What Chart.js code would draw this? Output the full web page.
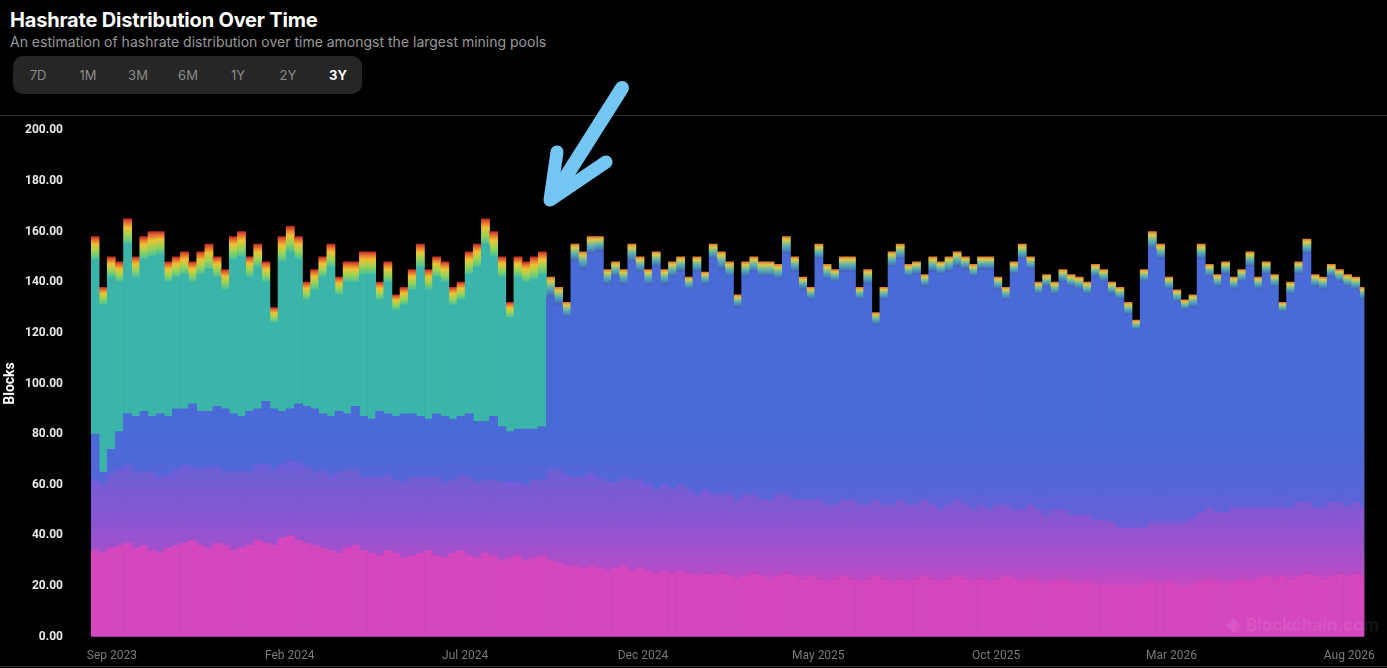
<!DOCTYPE html>
<html>
<head>
<meta charset="utf-8">
<title>Hashrate Distribution Over Time</title>
<script src="https://cdn.jsdelivr.net/npm/chart.js@4.4.1/dist/chart.umd.min.js"></script>
<style>
    html, body {
        margin: 0;
        padding: 0;
        width: 1387px;
        height: 668px;
        overflow: hidden;
        background: #000;
        font-family: Inter, "Noto Sans", sans-serif;
    }
    .title {
        position: absolute;
        left: 10px;
        top: 10px;
        color: #fff;
        font-size: 20px;
        line-height: 20px;
        font-weight: 700;
        letter-spacing: -0.2px;
    }
    .sub {
        position: absolute;
        left: 10px;
        top: 35px;
        color: #9a9a9a;
        font-size: 14px;
        line-height: 14px;
    }
    .ranges {
        position: absolute;
        left: 13px;
        top: 56px;
        width: 349px;
        height: 38px;
        background: #262626;
        border-radius: 10px;
    }
    .ranges span {
        position: absolute;
        top: 0;
        width: 50px;
        line-height: 38px;
        text-align: center;
        color: #8a8a8a;
        font-size: 13px;
    }
    .ranges span.on {
        color: #fff;
        font-weight: 700;
    }
    .rule {
        position: absolute;
        left: 0;
        width: 1387px;
        height: 1px;
        background: #2e2e2e;
    }
    .wrap {
        position: absolute;
        left: 0;
        top: 95px;
        width: 1387px;
        height: 577px;
    }
    .mark {
        position: absolute;
        left: 1228px;
        top: 615px;
        color: rgba(255, 255, 255, 0.08);
        font-size: 17px;
        font-weight: 700;
    }
    .mark i {
        display: inline-block;
        width: 11px;
        height: 11px;
        margin-right: 7px;
        background: rgba(255, 255, 255, 0.08);
        transform: rotate(45deg);
    }
    .arrow {
        position: absolute;
        left: 0;
        top: 0;
        pointer-events: none;
    }
</style>
</head>
<body>
<div class="title">Hashrate Distribution Over Time</div>
<div class="sub">An estimation of hashrate distribution over time amongst the largest mining pools</div>
<div class="ranges">
    <span style="left:0">7D</span>
    <span style="left:50px">1M</span>
    <span style="left:100px">3M</span>
    <span style="left:150px">6M</span>
    <span style="left:200px">1Y</span>
    <span style="left:250px">2Y</span>
    <span class="on" style="left:300px">3Y</span>
</div>
<div class="rule" style="top:115px"></div>
<div class="rule" style="top:666px"></div>
<div class="wrap"><canvas id="hashChart" width="1387" height="577"></canvas></div>
<div class="mark"><i></i>Blockchain.com</div>
<svg class="arrow" width="1387" height="668">
    <g fill="none" stroke="#74c6f4" stroke-linecap="round" stroke-linejoin="round">
        <path d="M622 88 L560 186" stroke-width="14"/>
        <path d="M557 152 L550 200 L606 162" stroke-width="13"/>
    </g>
</svg>

<script>
"use strict";

// blocks per day (weekly buckets), first week starts 14 Aug 2023
var pink = [34, 33, 35, 36, 37, 35, 36, 34, 33, 35, 36, 37, 38, 36, 35, 37, 36, 34, 35, 36,
    38, 37, 36, 39, 40, 38, 37, 36, 35, 34, 33, 35, 36, 34, 33, 32, 34, 33, 31, 32,
    33, 34, 32, 31, 33, 34, 32, 31, 33, 32, 30, 31, 32, 30, 31, 32,
    30, 29, 28, 28, 27, 28, 27, 26, 27, 28, 26, 27, 26, 25, 26,
    25, 26, 25, 24, 25, 24, 25, 24, 23, 24, 25, 24, 23, 24, 25,
    24, 23, 24, 23, 22, 23, 24, 23, 22, 23, 24, 23, 22, 23, 22,
    23, 24, 23, 22, 23, 24, 23, 22, 23, 22, 23, 24, 23, 22, 23,
    22, 21, 22, 23, 22, 21, 22, 21, 20, 21, 20, 21, 20, 21, 22,
    21, 22, 21, 20, 21, 22, 23, 22, 21, 22, 23, 22, 23, 24, 23,
    24, 23, 24, 25, 24, 23, 24, 25, 24, 25, 24];

var purple = [28, 27, 29, 30, 31, 30, 29, 31, 30, 29, 30, 31, 29, 30, 32, 30, 29, 31, 30, 29,
    30, 31, 30, 29, 30, 31, 30, 29, 31, 30, 32, 31, 30, 29, 30, 31, 30, 29, 30, 31,
    30, 29, 31, 30, 29, 30, 31, 30, 29, 30, 31, 30, 29, 30, 31, 30,
    36, 37, 36, 35, 36, 37, 36, 35, 34, 35, 36, 35, 34, 33, 34,
    33, 34, 33, 32, 33, 32, 31, 32, 31, 32, 31, 30, 31, 32, 31,
    30, 31, 30, 31, 30, 29, 30, 31, 30, 29, 30, 29, 30, 31, 30,
    29, 30, 29, 28, 29, 30, 29, 28, 29, 28, 29, 28, 27, 28, 29,
    28, 27, 28, 27, 26, 27, 26, 25, 26, 24, 23, 22, 23, 22, 23,
    24, 23, 24, 25, 26, 27, 28, 27, 28, 29, 28, 29, 28, 27, 28,
    27, 28, 29, 28, 27, 28, 29, 28, 27, 28, 27];

var blue = [18, 5, 10, 15, 20, 22, 24, 22, 25, 23, 24, 22, 25, 23, 22, 24, 25, 23, 22, 24,
    22, 25, 24, 21, 20, 23, 24, 25, 22, 23, 24, 22, 25, 24, 23, 26, 24, 25, 27, 25,
    24, 23, 25, 26, 24, 23, 25, 24, 23, 25, 22, 20, 21, 22, 20, 21,
    68, 65, 62, 85, 82, 86, 89, 78, 81, 76, 86, 82, 79, 88, 79,
    84, 84, 79, 88, 81, 93, 89, 86, 76, 86, 88, 88, 88, 85, 95,
    90, 83, 79, 95, 89, 88, 90, 90, 81, 87, 69, 81, 94, 95, 90,
    91, 84, 92, 93, 92, 92, 93, 92, 93, 95, 85, 81, 93, 99, 93,
    85, 90, 85, 90, 90, 89, 87, 96, 94, 90, 90, 84, 78, 97, 108,
    104, 92, 87, 84, 83, 100, 91, 89, 94, 86, 89, 95, 86, 92, 87,
    77, 84, 90, 98, 87, 86, 89, 87, 87, 84, 82];

// this pool stops showing up after September 2024
var teal = [69, 66, 68, 59, 67, 55, 60, 63, 63, 53, 52, 53, 48, 54, 56, 51, 47, 61, 63, 53,
    56, 47, 34, 59, 62, 57, 42, 47, 54, 59, 46, 52, 49, 56, 57, 44, 52, 42, 43, 49,
    59, 51, 54, 53, 45, 46, 55, 61, 70, 63, 59, 45, 60, 58, 59, 60];

var others = [9, 7, 8, 8, 10, 8, 9, 10, 9, 8, 8, 9, 8, 9, 10, 8, 8, 9, 10, 8,
    9, 8, 6, 10, 10, 9, 7, 8, 8, 9, 7, 8, 8, 9, 9, 7, 8, 6, 7, 8,
    9, 8, 8, 8, 7, 7, 9, 9, 10, 10, 8, 6, 8, 8, 9, 9,
    8, 7, 6, 7, 7, 7, 6, 6, 6, 6, 7, 6, 6, 6, 6,
    6, 6, 5, 6, 5, 6, 7, 6, 5, 6, 6, 6, 6, 6, 7,
    6, 5, 5, 6, 6, 5, 6, 6, 5, 6, 5, 5, 6, 6, 5,
    5, 5, 6, 5, 6, 6, 5, 5, 5, 5, 5, 5, 5, 6, 5,
    5, 5, 5, 5, 5, 5, 5, 5, 5, 5, 5, 5, 4, 5, 7,
    6, 5, 5, 4, 5, 6, 5, 5, 5, 5, 5, 6, 5, 5, 5,
    4, 5, 5, 6, 5, 5, 5, 5, 5, 5, 5];

var tickLabels = ['Sep 2023', 'Feb 2024', 'Jul 2024', 'Dec 2024', 'May 2025', 'Oct 2025', 'Mar 2026', 'Aug 2026'];
var tickDates = ['2023-09-01', '2024-02-01', '2024-07-01', '2024-12-01', '2025-05-01', '2025-10-01', '2026-03-01', '2026-08-01'];

var startDay = Date.parse('2023-08-14');
var spanDays = (Date.parse('2026-08-14') - startDay) / 864e5;

function dayOf(s) {
    return (Date.parse(s) - startDay) / 864e5;
}

function toPoints(arr) {
    return arr.map(function (v, i) {
        return { x: i * 7 + 3.5, y: v };
    });
}

var tickDays = tickDates.map(dayOf);

// the lower pools blend from magenta into blue going up
var grads = {};
function bandFill(name, from, to, stops, fallback) {
    return function (ctx) {
        var chart = ctx.chart;
        if (!chart.chartArea) return fallback;
        if (!grads[name]) {
            var y = chart.scales.y;
            var g = chart.ctx.createLinearGradient(0, y.getPixelForValue(from), 0, y.getPixelForValue(to));
            stops.forEach(function (s) {
                g.addColorStop(s[0], s[1]);
            });
            grads[name] = g;
        }
        return grads[name];
    };
}

var purpleFill = bandFill('purple', 20, 75, [[0, '#c44ac5'], [0.45, '#8b55d2'], [1, '#5f64d8']], '#9452d0');
var blueFill = bandFill('blue', 40, 80, [[0, '#6e5ed6'], [0.5, '#5566d8'], [1, '#4a6bd7']], '#4a6bd7');

// small pools on top of each bar: green -> yellow -> red
function tipFill(ctx) {
    var chart = ctx.chart;
    if (!chart.chartArea || ctx.type !== 'data') return '#e0c040';
    var i = ctx.dataIndex;
    var y = chart.scales.y;
    var base = pink[i] + purple[i] + blue[i] + (teal[i] || 0);
    var g = chart.ctx.createLinearGradient(0, y.getPixelForValue(base), 0, y.getPixelForValue(base + others[i]));
    if (i < teal.length) {
        g.addColorStop(0, '#45bfa0');
        g.addColorStop(0.35, '#9ad454');
        g.addColorStop(0.65, '#efc233');
        g.addColorStop(0.85, '#e6702c');
        g.addColorStop(1, '#bf2b2b');
    } else {
        g.addColorStop(0, '#3f5cc0');
        g.addColorStop(0.45, '#56aeb4');
        g.addColorStop(0.8, '#d8cc48');
        g.addColorStop(1, '#e27c34');
    }
    return g;
}

var ctx = document.getElementById('hashChart');
if (ctx) {
    var chart = new Chart(ctx, {
        type: 'bar',
        data: {
            datasets: [
                { label: 'Pool A', data: toPoints(pink), backgroundColor: '#d447bf' },
                { label: 'Pool B', data: toPoints(purple), backgroundColor: purpleFill },
                { label: 'Pool C', data: toPoints(blue), backgroundColor: blueFill },
                { label: 'Pool D', data: toPoints(teal), backgroundColor: '#3bb5a9' },
                { label: 'Others', data: toPoints(others), backgroundColor: tipFill }
            ]
        },
        options: {
            responsive: false,
            animation: false,
            devicePixelRatio: 1,
            layout: {
                padding: { top: 13, right: 13, left: 0, bottom: 0 }
            },
            datasets: {
                bar: {
                    barPercentage: 1,
                    categoryPercentage: 1,
                    borderWidth: 0
                }
            },
            plugins: {
                legend: { display: false },
                tooltip: { enabled: false }
            },
            scales: {
                x: {
                    type: 'linear',
                    stacked: true,
                    offset: false,
                    min: 0,
                    max: spanDays,
                    grid: { display: false, drawTicks: false },
                    border: { display: false },
                    afterBuildTicks: function (scale) {
                        scale.ticks = tickDays.map(function (d) {
                            return { value: d };
                        });
                    },
                    afterFit: function (scale) {
                        scale.height = 30;
                    },
                    ticks: {
                        autoSkip: false,
                        maxRotation: 0,
                        padding: 12,
                        color: '#7a7a7a',
                        font: { family: 'Roboto', size: 12 },
                        callback: function (value) {
                            var k = tickDays.indexOf(value);
                            return k < 0 ? '' : tickLabels[k];
                        }
                    }
                },
                y: {
                    stacked: true,
                    min: 0,
                    max: 200,
                    grid: { display: false, drawTicks: false },
                    border: { display: false },
                    afterFit: function (scale) {
                        scale.width = 91;
                    },
                    title: {
                        display: true,
                        text: 'Blocks',
                        color: '#ffffff',
                        padding: { top: 2, bottom: 0 },
                        font: { family: 'Roboto', size: 14, weight: 'bold' }
                    },
                    ticks: {
                        stepSize: 20,
                        padding: 28,
                        color: '#e8e8e8',
                        font: { family: 'Roboto', size: 12, weight: 'bold' },
                        callback: function (v) {
                            return v.toFixed(2);
                        }
                    }
                }
            }
        }
    });
}
</script>
</body>
</html>
